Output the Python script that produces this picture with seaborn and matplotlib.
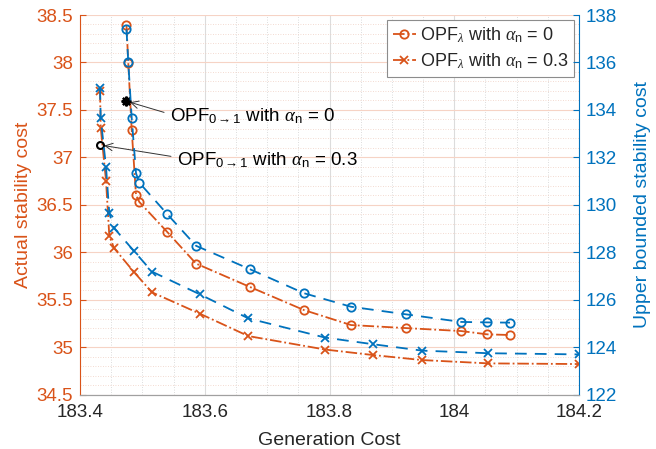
import matplotlib

matplotlib.use("Agg")
import matplotlib.pyplot as plt
import seaborn as sns
from matplotlib.ticker import MultipleLocator

# OPF_lambda sweep, alpha_n = 0
gen_a0 = [183.4745, 183.4774, 183.4829, 183.4898, 183.4951, 183.5400, 183.5860,
          183.6726, 183.7591, 183.8345, 183.9226, 184.0108, 184.0530, 184.0894]
actual_a0 = [38.395, 37.994, 37.288, 36.602, 36.529, 36.212, 35.880,
             35.633, 35.390, 35.232, 35.200, 35.169, 35.134, 35.127]
upper_a0 = [137.40, 136.01, 133.65, 131.33, 130.93, 129.60, 128.27,
            127.28, 126.27, 125.70, 125.38, 125.06, 125.04, 125.03]

# OPF_lambda sweep, alpha_n = 0.3
gen_a03 = [183.4321, 183.4332, 183.4417, 183.4470, 183.4545, 183.4858, 183.5154,
           183.5924, 183.6698, 183.7928, 183.8697, 183.9483, 184.0546, 184.2000]
actual_a03 = [37.699, 37.312, 36.755, 36.170, 36.044, 35.796, 35.577,
              35.351, 35.116, 34.974, 34.916, 34.863, 34.828, 34.821]
upper_a03 = [134.92, 133.64, 131.60, 129.64, 129.02, 128.07, 127.18,
             126.22, 125.21, 124.40, 124.12, 123.85, 123.74, 123.69]

# OPF_{0->1} solutions
opf01_gen = [183.4737, 183.4321]
opf01_cost = [37.593, 37.130]

x_ticks = [183.4, 183.6, 183.8, 184.0, 184.2]
x_tick_labels = ["183.4", "183.6", "183.8", "184", "184.2"]
left_ticks = [34.5, 35, 35.5, 36, 36.5, 37, 37.5, 38, 38.5]
left_tick_labels = ["34.5", "35", "35.5", "36", "36.5", "37", "37.5", "38", "38.5"]
right_ticks = [122, 124, 126, 128, 130, 132, 134, 136, 138]

ORANGE = "#D95319"
BLUE = "#0072BD"
DARK = "#262626"

sns.set_style("white")
plt.rcParams["font.family"] = ["Liberation Sans", "DejaVu Sans"]
plt.rcParams["mathtext.fontset"] = "custom"
plt.rcParams["mathtext.rm"] = "Liberation Sans"
plt.rcParams["mathtext.it"] = "Liberation Serif:italic"
plt.rcParams["mathtext.sf"] = "Liberation Sans"

fig = plt.figure(figsize=(6.56, 4.49), dpi=100)
ax = fig.add_axes([80 / 656, 1 - 394.5 / 449, 499 / 656, 379.5 / 449])
ax2 = ax.twinx()

line_kw = dict(lw=1.3, markersize=6, markerfacecolor="none", markeredgewidth=1.3, sort=False)
blue_dash = (0, (6.5, 4.5))

l1 = sns.lineplot(x=gen_a0, y=actual_a0, ax=ax, color=ORANGE, marker="o",
                  markeredgecolor=ORANGE, linestyle="-.", **line_kw).lines[-1]
l2 = sns.lineplot(x=gen_a03, y=actual_a03, ax=ax, color=ORANGE, marker="x",
                  markeredgecolor=ORANGE, linestyle="-.", **line_kw).lines[-1]
sns.lineplot(x=gen_a0, y=upper_a0, ax=ax2, color=BLUE, marker="o",
             markeredgecolor=BLUE, linestyle=blue_dash, **line_kw)
sns.lineplot(x=gen_a03, y=upper_a03, ax=ax2, color=BLUE, marker="x",
             markeredgecolor=BLUE, linestyle=blue_dash, **line_kw)

# OPF_{0->1} markers
ax.plot(opf01_gen[0], opf01_cost[0], marker=(8, 2, 0), color="black", ms=7, mew=1.6, zorder=5)
ax.plot(opf01_gen[1], opf01_cost[1], marker="o", color="black", mfc="none", ms=5, mew=1.5, zorder=5)

arrow = dict(arrowstyle="->", color="#333333", lw=0.7, shrinkA=2, shrinkB=3, relpos=(0, 0.62))
ax.annotate(r"OPF$_{0\rightarrow1}$ with $\alpha_\mathrm{n}$ = 0",
            xy=(opf01_gen[0], opf01_cost[0]), xytext=(183.5443, 37.43),
            fontsize=13.5, color="black", ha="left", va="center", arrowprops=arrow)
ax.annotate(r"OPF$_{0\rightarrow1}$ with $\alpha_\mathrm{n}$ = 0.3",
            xy=(opf01_gen[1], opf01_cost[1]), xytext=(183.5555, 36.975),
            fontsize=13.5, color="black", ha="left", va="center", arrowprops=arrow)

ax.set_xlim(183.4, 184.2)
ax.set_ylim(34.5, 38.5)
ax2.set_ylim(122, 138)

ax.set_xticks(x_ticks, x_tick_labels)
ax.set_yticks(left_ticks, left_tick_labels)
ax2.set_yticks(right_ticks, [str(t) for t in right_ticks])
ax.xaxis.set_minor_locator(MultipleLocator(0.05))
ax.yaxis.set_minor_locator(MultipleLocator(0.1))

ax.grid(which="major", axis="x", color="#dcdcdc", lw=0.8)
ax.grid(which="minor", axis="x", color="#d0d0d0", lw=0.6, ls=(0, (1, 2)))
ax.grid(which="major", axis="y", color="#f6d3c5", lw=0.8)
ax.grid(which="minor", axis="y", color="#f0cfc2", lw=0.6, ls=(0, (1, 2)))
ax.set_axisbelow(True)

ax.tick_params(axis="x", which="major", direction="in", length=4, labelsize=13.5,
               colors=DARK, pad=7)
ax.tick_params(axis="y", which="major", direction="in", length=4, labelsize=13.5,
               colors=ORANGE, pad=5)
ax.tick_params(which="minor", length=0)
ax2.tick_params(axis="y", which="major", direction="in", length=4, labelsize=13.5,
                colors=BLUE, pad=5)

for a in (ax, ax2):
    a.spines["top"].set_visible(False)
    a.spines["bottom"].set_color("#a0a0a0")
ax.spines["left"].set_color(ORANGE)
ax.spines["right"].set_visible(False)
ax2.spines["left"].set_visible(False)
ax2.spines["right"].set_color(BLUE)

ax.set_xlabel("Generation Cost", fontsize=14, color=DARK, labelpad=8)
ax.set_ylabel("Actual stability cost", fontsize=14, color=ORANGE, labelpad=3)
ax2.set_ylabel("Upper bounded stability cost", fontsize=14, color=BLUE, labelpad=12)

leg = ax.legend([l1, l2],
                [r"OPF$_\lambda$ with $\alpha_\mathrm{n}$ = 0",
                 r"OPF$_\lambda$ with $\alpha_\mathrm{n}$ = 0.3"],
                loc="upper right", fontsize=13, frameon=True, fancybox=False,
                edgecolor="#8c8c8c", framealpha=1, handlelength=1.3,
                handletextpad=0.2, borderpad=0.3, labelspacing=0.35,
                borderaxespad=0.28)
leg.get_frame().set_linewidth(0.8)

fig.savefig("out.png", dpi=100)
plt.close(fig)
